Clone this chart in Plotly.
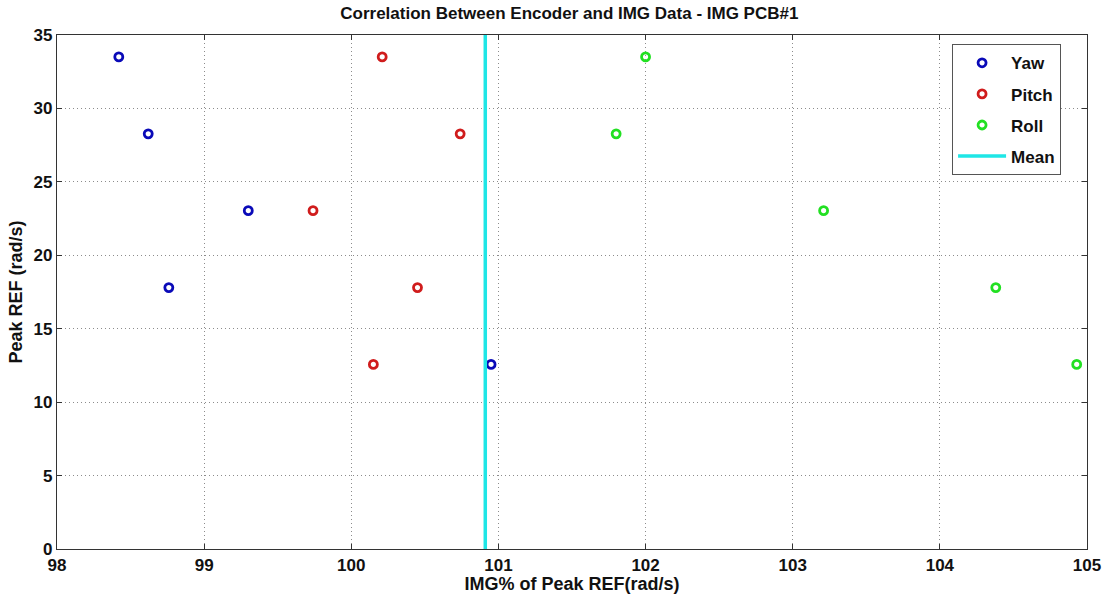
import numpy as np
import plotly.graph_objects as go

# Peak reference rates (rad/s) for each test run
peak_ref = [33.51, 28.27, 23.04, 17.80, 12.57]

# IMG reading as a percentage of the peak reference, per axis
yaw_pct = [98.42, 98.62, 99.30, 98.76, 100.95]
pitch_pct = [100.21, 100.74, 99.74, 100.45, 100.15]
roll_pct = [102.00, 101.80, 103.21, 104.38, 104.93]

mean_pct = float(np.mean(yaw_pct + pitch_pct + roll_pct))

x_ticks = [98, 99, 100, 101, 102, 103, 104, 105]
y_ticks = [0, 5, 10, 15, 20, 25, 30, 35]

FONT = "Liberation Sans, Arial, sans-serif"

fig = go.Figure()

series = [
    ("Yaw", yaw_pct, "#0a0ab8"),
    ("Pitch", pitch_pct, "#d01c1c"),
    ("Roll", roll_pct, "#22e022"),
]
for name, xs, color in series:
    fig.add_trace(go.Scatter(
        x=xs, y=peak_ref, mode="markers", name=name, legendgroup=name,
        marker=dict(symbol="circle-open", size=8, color=color,
                    line=dict(width=2.8, color=color)),
    ))

fig.add_trace(go.Scatter(
    x=[mean_pct, mean_pct], y=[y_ticks[0], y_ticks[-1]], mode="lines",
    name="Mean", legendgroup="Mean",
    line=dict(color="#1ee6e6", width=3.5),
))

axis_common = dict(
    showline=True, linecolor="#333333", linewidth=1.2, mirror="allticks",
    ticks="inside", ticklen=5, tickcolor="#333333",
    showgrid=True, gridcolor="#8c8c8c", griddash="1px,3px", gridwidth=1,
    zeroline=False, automargin=False,
    tickfont=dict(family=FONT, size=17, color="#111111", weight="bold"),
)

fig.update_layout(
    width=1112, height=598,
    margin=dict(l=57, r=25, t=35, b=49),
    paper_bgcolor="white", plot_bgcolor="white",
    title=dict(text="Correlation Between Encoder and IMG Data - IMG PCB#1",
               x=0.512, xanchor="center", y=0.978, yanchor="middle",
               font=dict(family=FONT, size=17, color="#111111", weight="bold")),
    xaxis=dict(range=[98, 105], tickvals=x_ticks,
               title=dict(text="IMG% of Peak REF(rad/s)", standoff=2,
                          font=dict(family=FONT, size=18, color="#111111", weight="bold")),
               **axis_common),
    yaxis=dict(range=[0, 35], tickvals=y_ticks,
               title=dict(text="Peak REF (rad/s)", standoff=6,
                          font=dict(family=FONT, size=18, color="#111111", weight="bold")),
               **axis_common),
    legend=dict(x=0.869, y=0.982, xanchor="left", yanchor="top",
                bgcolor="white", bordercolor="#555555", borderwidth=1,
                traceorder="grouped", tracegroupgap=6,
                font=dict(family=FONT, size=17, color="#111111", weight="bold"),
                itemwidth=48, entrywidth=123),
    showlegend=True,
)

fig.write_html("out.html")
